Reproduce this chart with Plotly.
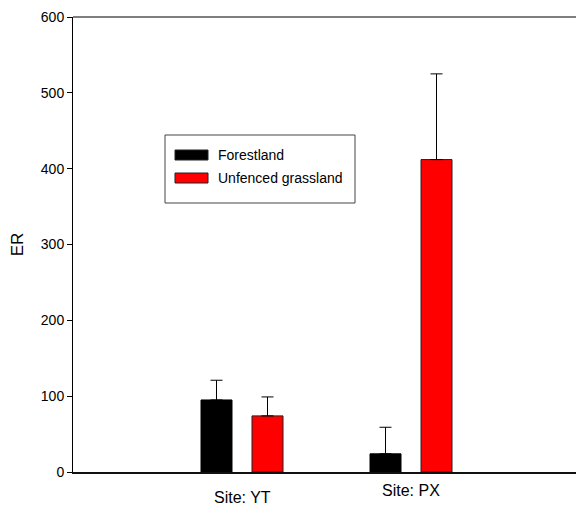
import plotly.graph_objects as go

sites = ["Site: YT", "Site: PX"]
forest = [95, 24]
forest_err = [26, 35]
grass = [74, 412]
grass_err = [25, 113]
y_ticks = [0, 100, 200, 300, 400, 500, 600]

W, H = 576, 509
L, R, T, B = 73, 0, 17, 37
pw, ph = W - L - R, H - T - B

FONT = "Liberation Sans, Arial, sans-serif"

fig = go.Figure()
bw = 31 / 169
fig.add_trace(go.Bar(
    x=[0, 1], y=forest, width=bw, offset=-41 / 169,
    marker=dict(color="black", line=dict(color="black", width=1)),
    error_y=dict(type="data", array=forest_err, arrayminus=[0, 0], symmetric=False,
                 color="black", thickness=1, width=6),
    showlegend=False, name="Forestland"))
fig.add_trace(go.Bar(
    x=[0, 1], y=grass, width=bw, offset=10 / 169,
    marker=dict(color="#ff0000", line=dict(color="#222", width=1)),
    error_y=dict(type="data", array=grass_err, arrayminus=[0, 0], symmetric=False,
                 color="black", thickness=1, width=6),
    showlegend=False, name="Unfenced grassland"))

def px2x(px):
    return (px - L) / pw

def py2y(py):
    return (H - B - py) / ph

shapes = []
# top frame line
shapes.append(dict(type="line", xref="paper", yref="paper", x0=0, x1=1, y0=1, y1=1,
                   line=dict(color="#555", width=1.5)))
# legend box
shapes.append(dict(type="rect", xref="paper", yref="paper",
                   x0=px2x(165), x1=px2x(355), y0=py2y(203), y1=py2y(135),
                   line=dict(color="#444", width=1), fillcolor="white"))
legend_items = [("Forestland", "black", 150), ("Unfenced grassland", "#ff0000", 173)]
annotations = []
for label, col, top in legend_items:
    shapes.append(dict(type="rect", xref="paper", yref="paper",
                       x0=px2x(175), x1=px2x(208), y0=py2y(top + 10), y1=py2y(top),
                       line=dict(color="#222", width=1), fillcolor=col))
    annotations.append(dict(text=label, xref="paper", yref="paper", x=px2x(216),
                            y=py2y(top + 5), xanchor="left", yanchor="middle",
                            showarrow=False, font=dict(family=FONT, size=14, color="black")))

# category labels
cat_y = [497, 490]
for i, s in enumerate(sites):
    annotations.append(dict(text=s, xref="x", yref="paper", x=i, y=py2y(cat_y[i]),
                            xanchor="center", yanchor="middle", showarrow=False,
                            font=dict(family=FONT, size=16, color="black")))

fig.update_layout(
    width=W, height=H,
    margin=dict(l=L, r=R, t=T, b=B, pad=0),
    paper_bgcolor="white", plot_bgcolor="white",
    font=dict(family=FONT, size=14, color="black"),
    shapes=shapes, annotations=annotations,
    xaxis=dict(range=[-1.0, -1.0 + pw / 169], showticklabels=False, ticks="",
               showgrid=False, zeroline=False, showline=True, linecolor="#111",
               linewidth=2),
    yaxis=dict(range=[0, 600], tickvals=y_ticks, ticks="outside", ticklen=5,
               tickcolor="black", tickwidth=1, showgrid=False, zeroline=False,
               showline=True, linecolor="black", linewidth=1,
               tickfont=dict(family=FONT, size=14, color="black"),
               title=dict(text="ER", font=dict(family=FONT, size=17, color="black"),
                          standoff=12)),
)

fig.write_html("out.html")
